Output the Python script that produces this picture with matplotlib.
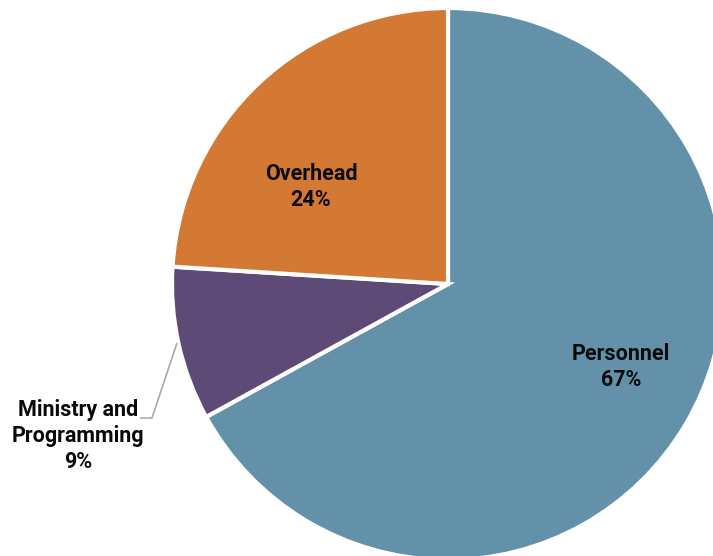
import matplotlib
matplotlib.use("Agg")
import matplotlib.pyplot as plt

categories = ["Personnel", "Ministry and\nProgramming", "Overhead"]
values = [67, 9, 24]
colors = ["#6491AA", "#5E4A76", "#D37934"]

W, H = 713, 556
fig = plt.figure(figsize=(W / 100, H / 100), dpi=100)
ax = fig.add_axes([0, 0, 1, 1])

cx, cy, r = 448, H - 284, 276
ax.pie(values, colors=colors, startangle=90, counterclock=False,
       center=(cx, cy), radius=r, frame=True,
       wedgeprops=dict(edgecolor="white", linewidth=3))
ax.set_xlim(0, W)
ax.set_ylim(0, H)
ax.set_aspect("equal")
ax.axis("off")

font = dict(family=["Roboto", "DejaVu Sans"], fontweight="bold", fontsize=15.5,
            color="#0a0a0a", ha="center", va="center", linespacing=1.22)

labels = [f"{c}\n{v}%" for c, v in zip(categories, values)]
ax.text(621, H - 367, labels[0], **font)
ax.text(311, H - 187, labels[2], **font)
ax.text(78, H - 436, labels[1], **font)

# leader line for Ministry and Programming
ax.plot([140, 152, 177], [H - 418, H - 418, H - 343], color="#AAAAAA", lw=1.2,
        solid_capstyle="butt")

fig.savefig("out.png", dpi=100)
